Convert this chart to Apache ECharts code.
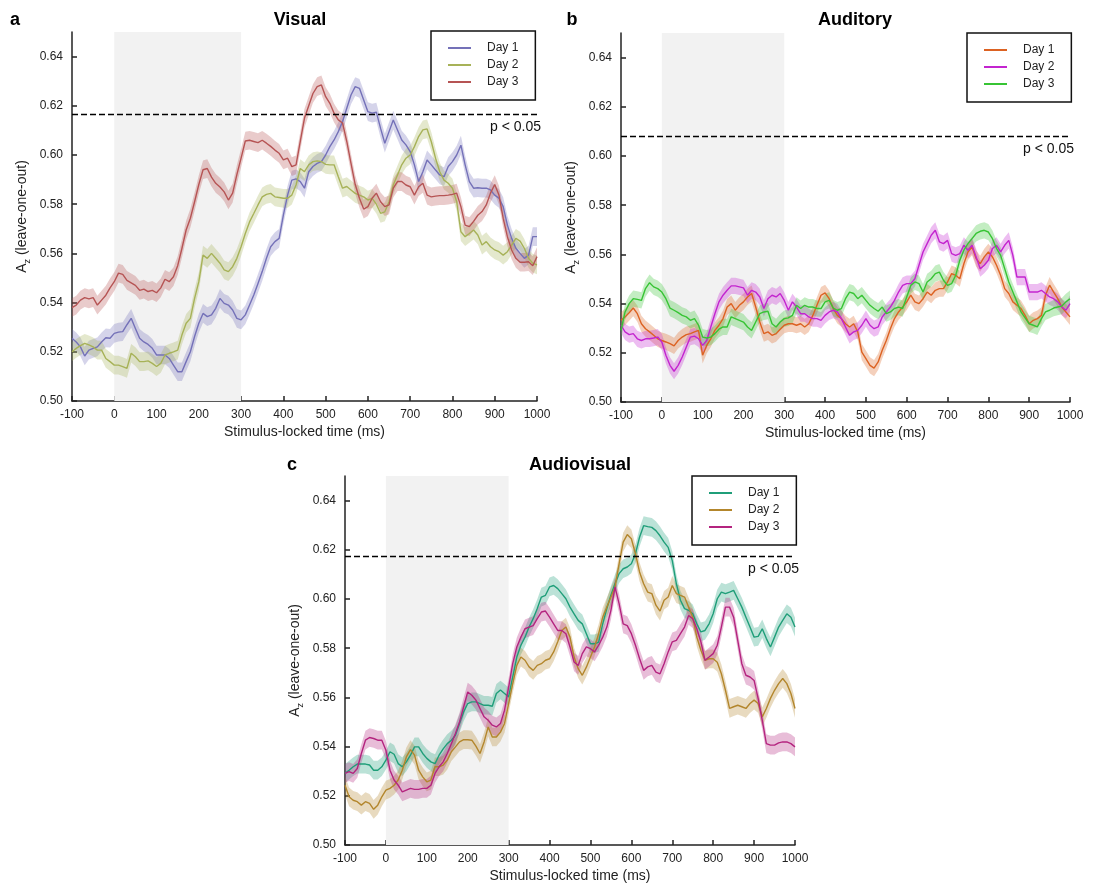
<!DOCTYPE html>
<html>
<head>
<meta charset="utf-8">
<script src="https://cdn.jsdelivr.net/npm/echarts@6/dist/echarts.min.js"></script>
<style>
html,body{margin:0;padding:0;background:#fff;}
#main{width:1108px;height:886px;}
</style>
</head>
<body>
<div id="main"></div>
<script>
// ---- data ----
const time = [-100,-90,-80,-70,-60,-50,-40,-30,-20,-10,
  0,10,20,30,40,50,60,70,80,90,
  100,110,120,130,140,150,160,170,180,190,
  200,210,220,230,240,250,260,270,280,290,
  300,310,320,330,340,350,360,370,380,390,
  400,410,420,430,440,450,460,470,480,490,
  500,510,520,530,540,550,560,570,580,590,
  600,610,620,630,640,650,660,670,680,690,
  700,710,720,730,740,750,760,770,780,790,
  800,810,820,830,840,850,860,870,880,890,
  900,910,920,930,940,950,960,970,980,990,1000];

const visualDay1 = [0.5255,0.524,0.522,0.5183,0.5207,0.5214,0.522,0.524,0.5257,0.5255,
  0.5275,0.528,0.5282,0.531,0.5336,0.5295,0.5255,0.524,0.523,0.5214,
  0.5187,0.5187,0.5187,0.5173,0.5146,0.5119,0.5119,0.516,0.520,0.5262,
  0.5316,0.5356,0.5343,0.535,0.5377,0.5417,0.5397,0.539,0.537,0.5336,
  0.533,0.535,0.539,0.5431,0.5478,0.5526,0.558,0.5627,0.5648,0.5661,
  0.5756,0.5837,0.5898,0.5903,0.5892,0.5865,0.5932,0.5953,0.5966,0.5973,
  0.600,0.6034,0.6061,0.6095,0.6136,0.619,0.6244,0.6278,0.6271,0.6224,
  0.6176,0.617,0.6174,0.6108,0.6048,0.6095,0.6142,0.6102,0.6061,0.6041,
  0.6014,0.596,0.5892,0.5932,0.598,0.596,0.5939,0.5919,0.5912,0.5953,
  0.5973,0.600,0.604,0.596,0.5892,0.5865,0.5867,0.5865,0.5865,0.5858,
  0.5837,0.5824,0.579,0.5715,0.5661,0.5621,0.560,0.558,0.5593,0.5668,0.5668];
const visualDay2 = [0.520,0.5214,0.5225,0.5234,0.5228,0.522,0.5207,0.5207,0.5173,0.516,
  0.5146,0.5146,0.514,0.5133,0.5194,0.518,0.516,0.516,0.5163,0.5153,
  0.514,0.5153,0.5187,0.5194,0.520,0.5207,0.5268,0.5316,0.5336,0.5417,
  0.5485,0.5593,0.558,0.560,0.558,0.556,0.5533,0.5526,0.5546,0.558,
  0.5627,0.5681,0.5728,0.5762,0.5797,0.583,0.584,0.5844,0.583,0.5827,
  0.5824,0.5824,0.5837,0.5878,0.5945,0.5932,0.596,0.5973,0.5976,0.5973,
  0.5962,0.596,0.596,0.5912,0.5865,0.5872,0.5858,0.5844,0.5837,0.583,
  0.5817,0.5824,0.580,0.5763,0.5769,0.581,0.5878,0.5919,0.596,0.5987,
  0.600,0.6034,0.6075,0.6102,0.6106,0.6054,0.5987,0.5932,0.5898,0.5885,
  0.5865,0.581,0.5688,0.5668,0.5681,0.5695,0.5675,0.5634,0.5648,0.5627,
  0.5614,0.5607,0.5593,0.5607,0.5634,0.5661,0.565,0.5621,0.558,0.556,0.5553];
const visualDay3 = [0.538,0.539,0.541,0.542,0.5415,0.542,0.539,0.541,0.543,0.546,
  0.5485,0.552,0.5515,0.549,0.548,0.547,0.545,0.5455,0.5445,0.545,
  0.544,0.546,0.5495,0.5485,0.5505,0.555,0.562,0.5695,0.5743,0.581,
  0.588,0.594,0.5945,0.591,0.5885,0.587,0.585,0.5817,0.5845,0.592,
  0.5987,0.6057,0.606,0.6055,0.605,0.606,0.6048,0.6035,0.602,0.6007,
  0.598,0.5987,0.5953,0.596,0.6055,0.615,0.620,0.625,0.6278,0.6285,
  0.6237,0.621,0.617,0.6143,0.613,0.6055,0.5966,0.588,0.5824,0.578,
  0.579,0.5824,0.5845,0.581,0.579,0.5797,0.5865,0.5892,0.5892,0.5878,
  0.5871,0.5837,0.5871,0.5885,0.5837,0.583,0.5833,0.5835,0.5835,0.5837,
  0.584,0.5845,0.579,0.5715,0.5709,0.573,0.5755,0.577,0.5797,0.5845,
  0.588,0.5837,0.5743,0.5668,0.5614,0.558,0.5564,0.5564,0.5566,0.555,0.5587];

const auditoryDay1 = [0.5332,0.5346,0.5363,0.5382,0.5359,0.5318,0.5298,0.5285,0.5271,0.5257,
  0.525,0.5244,0.5237,0.5228,0.525,0.5264,0.5274,0.5278,0.5285,0.5291,
  0.519,0.523,0.5257,0.5291,0.5312,0.5339,0.5386,0.540,0.5373,0.5393,
  0.5407,0.5427,0.5441,0.5386,0.5325,0.5278,0.5285,0.5271,0.5278,0.5296,
  0.5312,0.5318,0.5318,0.5312,0.5318,0.5305,0.5318,0.5352,0.5393,0.5434,
  0.5444,0.542,0.538,0.5352,0.5339,0.5318,0.5305,0.5318,0.5285,0.5203,
  0.5176,0.5149,0.5138,0.5163,0.521,0.525,0.5298,0.5339,0.5366,0.5386,
  0.5407,0.5434,0.5407,0.540,0.542,0.5447,0.5434,0.5454,0.5461,0.5461,
  0.5488,0.5522,0.5515,0.5501,0.5562,0.561,0.563,0.5583,0.5562,0.559,
  0.561,0.559,0.5556,0.5515,0.5461,0.5441,0.5407,0.5393,0.538,0.5352,
  0.5318,0.5332,0.5339,0.5352,0.5434,0.5475,0.5447,0.542,0.5386,0.5366,0.5346];
const auditoryDay2 = [0.5312,0.5285,0.5274,0.5278,0.5257,0.525,0.5257,0.5257,0.526,0.5264,
  0.5244,0.519,0.5149,0.5125,0.5149,0.5183,0.5224,0.5264,0.5268,0.5257,
  0.523,0.525,0.5305,0.5359,0.5407,0.5434,0.5454,0.5472,0.5472,0.5468,
  0.5464,0.5434,0.5454,0.5447,0.5427,0.538,0.542,0.5434,0.5427,0.5441,
  0.5413,0.5373,0.5407,0.5386,0.5359,0.5359,0.5346,0.5339,0.5339,0.5332,
  0.5352,0.5366,0.5373,0.5366,0.5339,0.5305,0.5271,0.5285,0.5291,0.5312,
  0.5339,0.5312,0.5298,0.5305,0.5346,0.5366,0.5386,0.5413,0.5447,0.5474,
  0.5481,0.5481,0.5501,0.5556,0.561,0.5644,0.5678,0.5698,0.5651,0.5644,
  0.5657,0.5603,0.5596,0.5603,0.5637,0.5617,0.5637,0.559,0.5542,0.5556,
  0.5576,0.5624,0.5637,0.561,0.5637,0.5657,0.5596,0.5508,0.5508,0.5508,
  0.5447,0.5447,0.5447,0.5454,0.5441,0.5427,0.542,0.5407,0.5386,0.5373,0.540];
const auditoryDay3 = [0.5291,0.5366,0.540,0.542,0.5417,0.5413,0.5461,0.5485,0.5468,0.5461,
  0.5447,0.542,0.5382,0.5373,0.5363,0.5352,0.5346,0.5332,0.5339,0.5312,
  0.5264,0.526,0.5264,0.5278,0.5296,0.5305,0.5305,0.5346,0.5339,0.5332,
  0.5325,0.5305,0.5291,0.5325,0.5359,0.5366,0.5369,0.5318,0.5305,0.5325,
  0.5339,0.5342,0.5352,0.5393,0.538,0.5393,0.5386,0.5386,0.538,0.538,
  0.5407,0.5413,0.5382,0.5373,0.538,0.542,0.5447,0.5441,0.542,0.5434,
  0.5413,0.5393,0.538,0.5369,0.5386,0.5359,0.5366,0.538,0.5386,0.538,
  0.5427,0.5474,0.5488,0.5481,0.5447,0.5488,0.5501,0.5522,0.5528,0.5495,
  0.5474,0.5481,0.5515,0.5576,0.5617,0.5644,0.5664,0.5685,0.5694,0.5698,
  0.5691,0.5664,0.5624,0.5596,0.5542,0.5488,0.5447,0.5407,0.5366,0.5342,
  0.5318,0.5312,0.5305,0.5339,0.5366,0.5373,0.5382,0.5386,0.539,0.5407,0.542];

const audiovisualDay1 = [0.5291,0.5304,0.5318,0.5329,0.5329,0.5329,0.5325,0.5304,0.5304,0.5318,
  0.5345,0.5379,0.5369,0.5331,0.5318,0.5338,0.5365,0.5399,0.5399,0.5372,
  0.5352,0.5338,0.5331,0.5365,0.5391,0.5412,0.5426,0.5446,0.5494,0.5541,
  0.5575,0.5582,0.5582,0.5575,0.5568,0.5568,0.5564,0.5616,0.563,0.5616,
  0.5602,0.5683,0.5764,0.5812,0.5845,0.5886,0.592,0.5961,0.6008,0.6015,
  0.6049,0.6055,0.6042,0.6022,0.6001,0.5967,0.594,0.5913,0.5899,0.5859,
  0.5818,0.5818,0.5825,0.5899,0.5961,0.6015,0.6062,0.6103,0.6123,0.613,
  0.6143,0.6184,0.6251,0.6298,0.6294,0.6291,0.6278,0.6257,0.6231,0.621,
  0.6156,0.6062,0.5995,0.5961,0.5954,0.594,0.5899,0.5866,0.5872,0.5899,
  0.594,0.6001,0.6028,0.6022,0.6028,0.6035,0.6001,0.5967,0.5926,0.5886,
  0.5845,0.5848,0.5879,0.5839,0.5805,0.5845,0.5886,0.5913,0.594,0.5926,0.5886];
const audiovisualDay2 = [0.5243,0.5196,0.5182,0.5176,0.5162,0.5176,0.5169,0.5145,0.5162,0.5196,
  0.5223,0.523,0.5243,0.5264,0.5304,0.5358,0.5388,0.5365,0.5304,0.5277,
  0.5257,0.5264,0.5318,0.5318,0.5325,0.5345,0.5379,0.5399,0.5419,0.5428,
  0.5428,0.5426,0.5402,0.5372,0.5419,0.548,0.5439,0.5439,0.5459,0.5494,
  0.5575,0.5656,0.573,0.5764,0.5751,0.5724,0.571,0.573,0.5737,0.5751,
  0.5757,0.5785,0.5826,0.5872,0.5886,0.5845,0.5764,0.5717,0.569,0.5723,
  0.5764,0.5805,0.5859,0.5926,0.5967,0.6008,0.6049,0.6143,0.6231,0.6262,
  0.6245,0.6184,0.611,0.6062,0.6028,0.6022,0.5975,0.5951,0.5995,0.6008,
  0.6055,0.6022,0.6015,0.6008,0.5967,0.5926,0.5845,0.5792,0.5751,0.5757,
  0.5757,0.5743,0.5696,0.5629,0.5555,0.5562,0.5568,0.5562,0.5555,0.5575,
  0.5589,0.5575,0.5521,0.5555,0.5596,0.5629,0.5656,0.5677,0.5656,0.5616,0.5555];
const audiovisualDay3 = [0.5291,0.5298,0.5291,0.5311,0.5372,0.5426,0.5437,0.5433,0.5426,0.5426,
  0.5385,0.5304,0.5264,0.5243,0.5216,0.5223,0.523,0.5226,0.5226,0.523,
  0.523,0.5243,0.5291,0.5318,0.5338,0.5372,0.5412,0.5453,0.550,0.5561,
  0.5622,0.5609,0.5589,0.5555,0.5521,0.5507,0.5487,0.548,0.5494,0.5548,
  0.5642,0.5737,0.5805,0.5845,0.5879,0.5886,0.5892,0.592,0.5947,0.5951,
  0.5926,0.5899,0.5872,0.5872,0.5859,0.5805,0.5744,0.573,0.5778,0.5805,
  0.5798,0.5785,0.5812,0.5845,0.5886,0.5954,0.6049,0.5981,0.5899,0.5892,
  0.5859,0.5812,0.5758,0.571,0.5724,0.573,0.5703,0.5696,0.5737,0.5785,
  0.5826,0.5832,0.5859,0.5886,0.5933,0.592,0.5879,0.5826,0.5751,0.5764,
  0.5778,0.5812,0.5886,0.5967,0.5967,0.5926,0.5832,0.5737,0.569,0.5683,
  0.5669,0.5595,0.5507,0.5412,0.5406,0.5406,0.5415,0.5419,0.5419,0.5412,0.5399];

// confidence band half-widths (one per panel)
const bandVisual = 0.0038;
const bandAuditory = 0.0033;
const bandAudiovisual = 0.0038;

// significance thresholds
const thresholdVisual = 0.6166;
const thresholdAuditory = 0.608;
const thresholdAudiovisual = 0.6175;

const dayNames = ['Day 1', 'Day 2', 'Day 3'];
const yTickValues = [0.50, 0.52, 0.54, 0.56, 0.58, 0.60, 0.62, 0.64];
const stimulusWindow = [0, 300];

// ---- chart ----
const FONT = 'Liberation Sans, Arial, Helvetica, sans-serif';
const panels = [
  { key: 'Visual', letter: 'a', data: [visualDay1, visualDay2, visualDay3], band: bandVisual, thr: thresholdVisual,
    colors: ['#7471b8', '#a7b258', '#b65454'],
    grid: { left: 72, top: 32, width: 465, height: 369 }, legend: { left: 431, top: 31 },
    title: [300, 20], letterPos: [15, 20] },
  { key: 'Auditory', letter: 'b', data: [auditoryDay1, auditoryDay2, auditoryDay3], band: bandAuditory, thr: thresholdAuditory,
    colors: ['#dc6222', '#c324cf', '#37c434'],
    grid: { left: 621, top: 33, width: 449, height: 369 }, legend: { left: 967, top: 33 },
    title: [855, 20], letterPos: [572, 20] },
  { key: 'Audiovisual', letter: 'c', data: [audiovisualDay1, audiovisualDay2, audiovisualDay3], band: bandAudiovisual, thr: thresholdAudiovisual,
    colors: ['#1f9e79', '#b3862c', '#b4247f'],
    grid: { left: 345, top: 476, width: 450, height: 369 }, legend: { left: 692, top: 476 },
    title: [580, 465], letterPos: [292, 465] }
];

function bandRenderer(color) {
  return function (params, api) {
    if (params.dataIndexInside !== 0) return null;
    const n = params.dataInsideLength;
    const upper = [], lower = [];
    for (let j = 0; j < n; j++) {
      upper.push(api.coord([api.value(0, j), api.value(2, j)]));
      lower.push(api.coord([api.value(0, j), api.value(1, j)]));
    }
    const pts = upper.concat(lower.reverse());
    return {
      type: 'polygon', silent: true,
      shape: { points: pts },
      style: { fill: color, opacity: 0.3 }
    };
  };
}

const grids = [], xAxes = [], yAxes = [], legends = [], series = [], graphics = [];

panels.forEach((p, pi) => {
  grids.push(Object.assign({ containLabel: false }, p.grid));
  xAxes.push({
    type: 'value', gridIndex: pi, min: -100, max: 1000, interval: 100,
    name: 'Stimulus-locked time (ms)', nameLocation: 'middle', nameGap: 24,
    nameTextStyle: { fontFamily: FONT, fontSize: 14, color: '#222' },
    axisLine: { show: true, onZero: false, lineStyle: { color: '#222', width: 1.5 } },
    axisTick: { show: true, inside: true, length: 5, lineStyle: { color: '#222', width: 1.5 } },
    axisLabel: { fontFamily: FONT, fontSize: 12, color: '#222', margin: 8, showMinLabel: true, showMaxLabel: true,
      formatter: v => String(v) },
    splitLine: { show: false }
  });
  yAxes.push({
    type: 'value', gridIndex: pi, min: 0.50, max: 0.65,
    name: '{m|A}{s|z}{m| (leave-one-out)}', nameLocation: 'middle', nameGap: 40, nameRotate: 90,
    nameTextStyle: { fontFamily: FONT, color: '#222',
      rich: { m: { fontFamily: FONT, fontSize: 14, color: '#222', verticalAlign: 'middle' },
              s: { fontFamily: FONT, fontSize: 9, color: '#222', verticalAlign: 'bottom', lineHeight: 20 } } },
    axisLine: { show: true, onZero: false, lineStyle: { color: '#222', width: 1.5 } },
    axisTick: { show: true, inside: true, length: 5, customValues: yTickValues, lineStyle: { color: '#222', width: 1.5 } },
    axisLabel: { fontFamily: FONT, fontSize: 12, color: '#222', margin: 9, customValues: yTickValues,
      formatter: v => v.toFixed(2) },
    splitLine: { show: false }
  });

  legends.push({
    left: p.legend.left, top: p.legend.top, orient: 'vertical',
    data: dayNames.map(d => p.key + '|' + d),
    formatter: n => n.split('|')[1],
    icon: 'rect', itemWidth: 23, itemHeight: 2, itemGap: 5,
    padding: [11, 17, 12, 17],
    borderColor: '#111', borderWidth: 1.5, backgroundColor: '#fff',
    textStyle: { fontFamily: FONT, fontSize: 12, color: '#222', lineHeight: 12, padding: [0, 0, 0, 11] },
    selectedMode: false
  });

  // stimulus window (grey) host
  series.push({
    name: p.key + '|window', type: 'line', xAxisIndex: pi, yAxisIndex: pi, data: [], z: 0, silent: true,
    markArea: {
      silent: true, itemStyle: { color: '#f2f2f2' },
      data: [[{ xAxis: stimulusWindow[0] }, { xAxis: stimulusWindow[1] }]]
    }
  });

  // bands
  p.data.forEach((vals, di) => {
    series.push({
      name: p.key + '|' + dayNames[di] + ' band', type: 'custom', xAxisIndex: pi, yAxisIndex: pi,
      silent: true, z: 2, clip: true,
      renderItem: bandRenderer(p.colors[di]),
      encode: { x: 0, y: [1, 2] },
      data: time.map((t, i) => [t, vals[i] - p.band, vals[i] + p.band])
    });
  });
  // lines
  p.data.forEach((vals, di) => {
    series.push({
      name: p.key + '|' + dayNames[di], type: 'line', xAxisIndex: pi, yAxisIndex: pi,
      symbol: 'none', showSymbol: false, z: di === 2 ? 4 : 3, color: p.colors[di],
      lineStyle: { color: p.colors[di], width: 1.4 },
      data: time.map((t, i) => [t, vals[i]]),
      markLine: di === 2 ? {
        silent: true, symbol: ['none', 'none'], precision: 4,
        lineStyle: { color: '#000', type: [6, 3], width: 1.3 },
        label: { show: true, formatter: 'p < 0.05', position: 'insideEndBottom', distance: [-4, 6],
          fontFamily: FONT, fontSize: 14, color: '#111' },
        data: [{ yAxis: p.thr }]
      } : undefined
    });
  });

  graphics.push({ type: 'text', x: p.title[0], y: p.title[1],
    style: { text: p.key, font: 'bold 18px ' + FONT, fill: '#000', textAlign: 'center', textVerticalAlign: 'middle' } });
  graphics.push({ type: 'text', x: p.letterPos[0], y: p.letterPos[1],
    style: { text: p.letter, font: 'bold 18px ' + FONT, fill: '#000', textAlign: 'center', textVerticalAlign: 'middle' } });
});

const chart = echarts.init(document.getElementById('main'), null, { renderer: 'canvas' });
chart.setOption({
  animation: false,
  backgroundColor: '#fff',
  grid: grids, xAxis: xAxes, yAxis: yAxes, legend: legends, series: series,
  graphic: graphics
});
</script>
</body>
</html>
